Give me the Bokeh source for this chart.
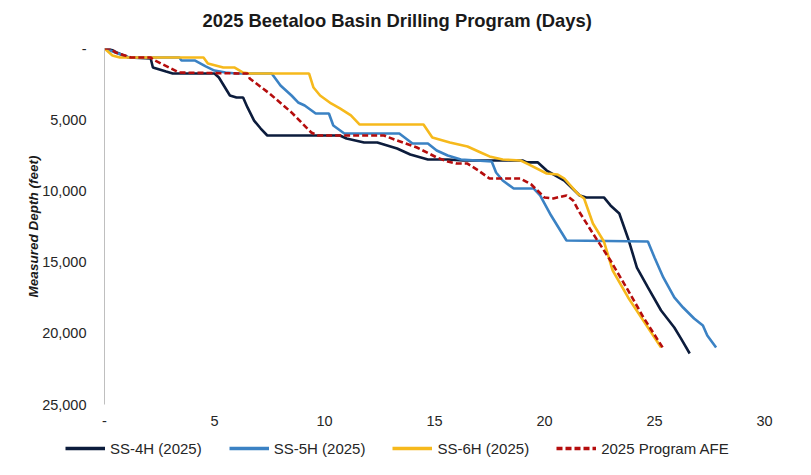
from bokeh.plotting import figure
from bokeh.models import Range1d, FixedTicker, NumeralTickFormatter, Legend, LegendItem, Label
from bokeh.embed import file_html
from bokeh.resources import INLINE

# ---- data (days, measured depth in feet) ----
ss4h_days = [0, 0.2, 0.55, 1.1, 2.1, 2.2, 2.8, 3.1, 5.0, 5.2, 5.7, 6.0, 6.3, 6.5, 6.8, 7.1, 7.4,
             10.7, 11.0, 11.8, 12.4, 13.3, 13.9, 14.7, 15.6, 16.3, 19.0, 19.2, 19.7, 20.1, 20.9,
             21.6, 21.9, 22.7, 23.0, 23.4, 23.8, 24.2, 24.7, 25.3, 25.9, 26.2, 26.6]
ss4h_depth = [0, 0, 280, 630, 700, 1330, 1620, 1760, 1760, 2040, 3300, 3440, 3440, 4140, 5060, 5620, 6110,
              6110, 6320, 6600, 6600, 7020, 7440, 7790, 7790, 7860, 7860, 8000, 8000, 8570, 9270,
              10320, 10460, 10460, 11020, 11590, 13340, 15380, 16780, 18400, 19590, 20360, 21420]

ss5h_days = [0, 0.5, 1.1, 3.4, 3.5, 4.1, 4.6, 5.0, 5.5, 6.0, 7.6, 8.0, 8.5, 8.8, 9.1, 9.6, 10.2,
             10.4, 10.9, 13.4, 13.7, 14.0, 14.7, 15.1, 15.6, 16.2, 17.6, 17.8, 18.1, 18.6, 19.5,
             19.8, 20.3, 21.0, 24.7, 25.0, 25.4, 25.9, 26.3, 26.8, 27.2, 27.4, 27.8]
ss5h_depth = [0, 280, 630, 630, 840, 840, 1260, 1550, 1690, 1760, 1760, 2600, 3300, 3790, 4000, 4560, 4560,
              5410, 5970, 5970, 6320, 6670, 6670, 7160, 7510, 7790, 7930, 8710, 9270, 9830, 9830,
              10320, 11730, 13480, 13550, 14680, 16080, 17480, 18190, 18960, 19450, 20150, 21000]

ss6h_days = [0, 0.36, 0.7, 4.5, 4.7, 5.4, 5.9, 6.3, 6.6, 9.3, 9.5, 9.8, 10.3, 10.7, 11.2, 11.6,
             14.5, 14.9, 15.7, 16.5, 17.1, 17.5, 18.1, 18.9, 19.3, 20.1, 20.6, 20.9, 21.5, 21.8,
             22.2, 22.7, 23.1, 23.8, 24.4, 25.3]
ss6h_depth = [0, 490, 630, 630, 1050, 1330, 1330, 1690, 1760, 1760, 2740, 3300, 3860, 4210, 4700, 5340,
              5340, 6250, 6600, 6880, 7300, 7580, 7790, 7860, 8150, 8780, 8850, 9130, 10180, 10530,
              12290, 13550, 15590, 17480, 18890, 21000]

afe_days = [0, 0.27, 0.5, 1.2, 2.1, 2.2, 3.4, 6.5, 6.6, 7.5, 8.5, 9.4, 9.7, 12.7, 13.3, 14.2, 15.1,
            15.6, 16.0, 16.5, 17.0, 17.5, 18.9, 19.4, 20.0, 20.4, 21.0, 21.3, 21.6, 22.2, 23.0,
            23.8, 24.5, 25.4]
afe_depth = [0, 0, 280, 630, 630, 770, 1690, 1760, 2110, 3160, 4490, 5900, 6110, 6110, 6460, 6950, 7650,
             7930, 8080, 8080, 8570, 9130, 9130, 9550, 10460, 10530, 10320, 10670, 11520, 12990, 14890,
             16990, 18890, 21070]

title_text = "2025 Beetaloo Basin Drilling Program (Days)"
y_label = "Measured Depth (feet)"
series_names = ["SS-4H (2025)", "SS-5H (2025)", "SS-6H (2025)", "2025 Program AFE"]
series_colors = ["#0c1c3c", "#3b82c4", "#f6b91c", "#b50d0d"]
series_dash = ["solid", "solid", "solid", "6 3"]
x_ticks = [0, 5, 10, 15, 20, 25, 30]
y_ticks = [0, 5000, 10000, 15000, 20000, 25000]

FONT = "Liberation Sans"
W = 805
data = [(ss4h_days, ss4h_depth), (ss5h_days, ss5h_depth), (ss6h_days, ss6h_depth), (afe_days, afe_depth)]


def strip(h):
    # blank strip: its ranges lie outside all data, so nothing of the series is drawn here
    f = figure(width=W, height=h, output_backend="svg", toolbar_location=None,
               x_axis_type=None, y_axis_type=None, x_range=Range1d(0, 30), y_range=Range1d(-2, -1),
               min_border_left=0, min_border_right=0, min_border_top=0, min_border_bottom=0)
    f.outline_line_color = None
    f.xgrid.grid_line_color = None
    f.ygrid.grid_line_color = None
    return f


# ---- title strip ----
top = strip(40)
top.add_layout(Label(x=202, y=20, x_units="screen", y_units="screen", text=title_text,
                     text_font=FONT, text_font_size="18.4px", text_font_style="bold",
                     text_color="#1a1a1a", text_align="left", text_baseline="middle"))

# ---- main chart ----
p = figure(width=W, height=392, output_backend="svg", toolbar_location=None,
           x_range=Range1d(0, 30), y_range=Range1d(25000, 0),
           min_border_left=104, min_border_right=W - 764, min_border_top=8, min_border_bottom=28)
p.outline_line_color = None
p.xgrid.grid_line_color = None
p.ygrid.grid_line_color = None

p.xaxis.ticker = FixedTicker(ticks=x_ticks)
p.xaxis.major_label_overrides = {0: "-"}
p.xaxis.axis_line_color = None
p.xaxis.major_tick_line_color = None
p.xaxis.minor_tick_line_color = None
p.xaxis.major_label_standoff = 5
p.xaxis.major_label_text_font = FONT
p.xaxis.major_label_text_font_size = "14.5px"
p.xaxis.major_label_text_color = "#262626"

p.yaxis.ticker = FixedTicker(ticks=y_ticks)
p.yaxis.formatter = NumeralTickFormatter(format="0,0")
p.yaxis.major_label_overrides = {0: "-"}
p.yaxis.axis_line_color = "#bfbfbf"
p.yaxis.major_tick_line_color = None
p.yaxis.minor_tick_line_color = None
p.yaxis.major_label_standoff = 12
p.yaxis.major_label_text_font = FONT
p.yaxis.major_label_text_font_size = "14.5px"
p.yaxis.major_label_text_color = "#262626"
p.yaxis.axis_label = y_label
p.yaxis.axis_label_text_font = FONT
p.yaxis.axis_label_text_font_size = "13.5px"
p.yaxis.axis_label_text_font_style = "bold italic"
p.yaxis.axis_label_text_color = "#1a1a1a"
p.yaxis.axis_label_standoff = -2

for (xs, ys), c, d in zip(data, series_colors, series_dash):
    p.line(xs, ys, line_color=c, line_width=2.6, line_dash=d)

# ---- legend strip (same series, out of view; only legend samples show) ----
leg = strip(32)
items = []
for name, (xs, ys), c, d in zip(series_names, data, series_colors, series_dash):
    r = leg.line(xs, ys, line_color=c, line_width=3.5, line_dash=d)
    items.append(LegendItem(label=name, renderers=[r]))
legend = Legend(items=items, orientation="horizontal", location=(65, 6), margin=0, padding=4,
                spacing=27, glyph_width=40, glyph_height=20, label_standoff=5,
                label_text_font=FONT, label_text_font_size="15px", label_text_color="#262626",
                border_line_color=None, background_fill_alpha=0)
leg.add_layout(legend, "center")

open("out.html", "w").write(file_html([top, p, leg], INLINE))
